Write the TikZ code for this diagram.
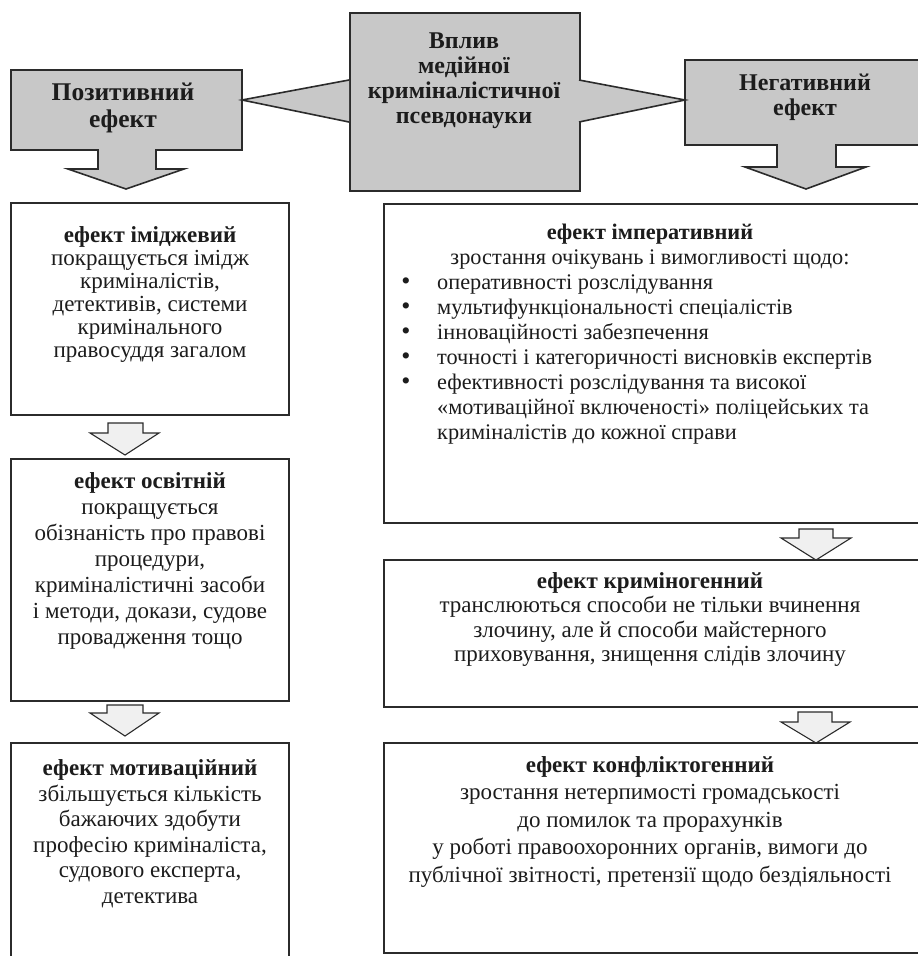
\documentclass[tikz,border=0pt]{standalone}
\usepackage{fontspec}
\setmainfont{Liberation Serif}
\definecolor{hdrgray}{HTML}{C8C8C8}
\definecolor{arrowfill}{HTML}{F0F0F0}
\definecolor{linec}{HTML}{2B2B2B}
\definecolor{textc}{HTML}{1C1C1C}
\setlength{\normallineskiplimit}{-100pt}
\setlength{\lineskiplimit}{-100pt}
\begin{document}
\begin{tikzpicture}[x=1pt,y=-1pt,line join=miter,
  hdr/.style={draw=linec,line width=1.6pt,fill=hdrgray},
  boxo/.style={draw=linec,line width=1.3pt},
  sarrow/.style={draw=linec,line width=1.1pt,fill=arrowfill},
  txt/.style={inner sep=0pt,anchor=north,align=center,text=textc},
  body/.style={font=\fontsize{23}{#1}\selectfont},
  sbody/.style={font=\fontsize{22.3}{#1}\selectfont},
  bbody/.style={font=\bfseries\fontsize{24}{#1}\selectfont}]
\useasboundingbox (0,0) rectangle (918,956);
% header shapes
\draw[hdr] (11,70) -- (242,70) -- (242,150) -- (156,150) -- (156,169) -- (184,169) -- (126,189) -- (68,169) -- (98,169) -- (98,150) -- (11,150) -- cycle;
\draw[hdr] (685,60) -- (925,60) -- (925,145) -- (836,145) -- (836,167) -- (866,167) -- (806,189) -- (745,167) -- (777,167) -- (777,145) -- (685,145) -- cycle;
\node[hdr,anchor=north west,minimum width=230,minimum height=178,inner sep=0pt] (infl) at (349,12) {};
\fill[hdrgray] (349,80) -- (242,100) -- (349,122) -- cycle;
\draw[linec,line width=1.6pt] (349,80) -- (242,100) -- (349,122);
\fill[hdrgray] (579,80) -- (685,100) -- (579,122) -- cycle;
\draw[linec,line width=1.6pt] (579,80) -- (685,100) -- (579,122);
\node[txt,font=\bfseries\fontsize{25.5}{27}\selectfont] (pos) at (123,81.8) {\strut Позитивний\\ефект};
\node[txt,bbody=25] (neg) at (805,72.9) {\strut Негативний\\ефект};
\node[txt,bbody=25] (infltext) at (464,30.9) {\strut Вплив\\медійної\\криміналістичної\\псевдонауки};
% left column boxes
\draw[boxo] (11,203) rectangle (289,415);
\draw[boxo] (11,459) rectangle (289,701);
\draw[boxo] (11,743) rectangle (289,975);
% right column boxes
\draw[boxo] (384,204) rectangle (930,523);
\draw[boxo] (384,560) rectangle (930,707);
\draw[boxo] (384,743) rectangle (930,953);
% small arrows
\draw[sarrow] (108,423) -- (143,423) -- (143,433) -- (159,433) -- (125,455) -- (90,433) -- (108,433) -- cycle;
\draw[sarrow] (107,705) -- (143,705) -- (143,713) -- (159,713) -- (125,736) -- (90,713) -- (107,713) -- cycle;
\draw[sarrow] (799,529) -- (833,529) -- (833,538) -- (851,538) -- (816,560) -- (781,538) -- (799,538) -- cycle;
\draw[sarrow] (798,712) -- (832,712) -- (832,722) -- (850,722) -- (816,743) -- (781,722) -- (798,722) -- cycle;
% left texts
\node[txt,body=23] (img) at (150,226.1) {\strut\textbf{ефект іміджевий}\\покращується імідж\\криміналістів,\\детективів, системи\\кримінального\\правосуддя загалом};
\node[txt,body=26] (osv) at (150,470) {\strut\textbf{ефект освітній}\\покращується\\обізнаність про правові\\процедури,\\криміналістичні засоби\\і методи, докази, судове\\провадження тощо};
\node[txt,body=25.6] (mot) at (150,757.3) {\strut\textbf{ефект мотиваційний}\\збільшується кількість\\бажаючих здобути\\професію криміналіста,\\судового експерта,\\детектива};
% right texts
\node[txt,sbody=25] (imp) at (650,221.5) {\strut\textbf{ефект імперативний}\\ зростання очікувань і вимогливості щодо:};
\node[txt,sbody=25,anchor=north west,align=left] (implist) at (437,271.5) {\strut оперативності розслідування\\мультифункціональності спеціалістів\\інноваційності забезпечення\\точності і категоричності висновків експертів\\ефективності розслідування та високої\\«мотиваційної включеності» поліцейських та\\криміналістів до кожної справи};
\node[txt,font=\fontsize{26}{25}\selectfont] (bul) at (406,271.5) {\strut •\\•\\•\\•\\•};
\node[txt,body=24.5] (krim) at (650,571) {\strut\textbf{ефект криміногенний}\\транслюються способи не тільки вчинення\\злочину, але й способи майстерного\\приховування, знищення слідів злочину};
\node[txt,body=27.5] (konf) at (650,753) {\strut\textbf{ефект конфліктогенний}\\зростання нетерпимості громадськості\\до помилок та прорахунків\\у роботі правоохоронних органів, вимоги до\\публічної звітності, претензії щодо бездіяльності};
\end{tikzpicture}
\end{document}
